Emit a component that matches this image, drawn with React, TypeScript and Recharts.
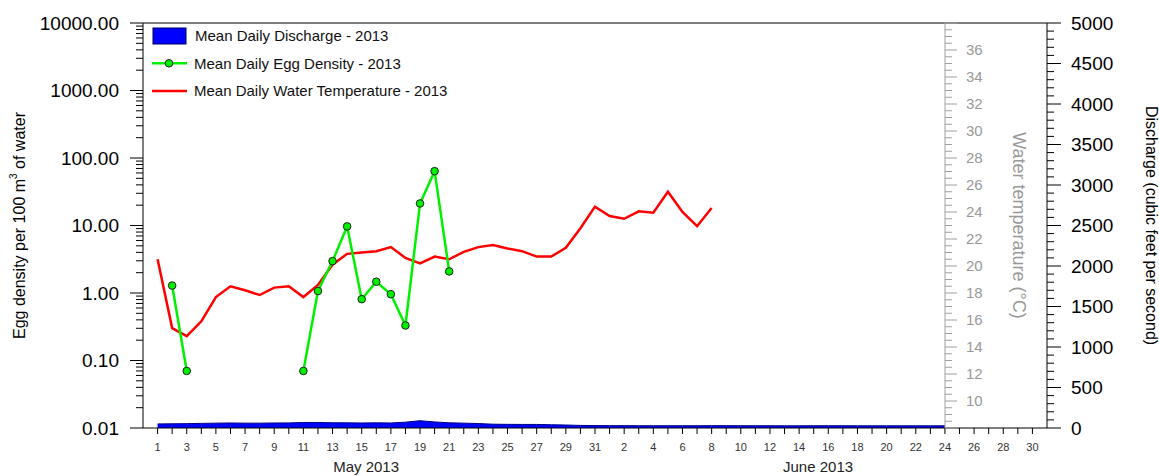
import React from 'react';
import { ComposedChart, Area, Line, XAxis, YAxis, ReferenceLine, Legend } from 'recharts';

// day 1 = May 1 2013 ... day 61 = June 30 2013
const dischargeCfs = [
  50, 52, 54, 57, 60, 62, 60, 60, 62, 63, 68, 68, 65, 64, 62, 64, 62, 72, 90, 75, 64, 60, 55, 47, 45, 44, 44, 40, 37, 32, 30,
  29, 29, 28, 28, 28, 28, 28, 29, 29, 28, 28, 28, 27, 27, 28, 28, 28, 27, 27, 27, 27, 27, 27, 27,
];
const eggDensity = [
  null, 1.29, 0.07, null, null, null, null, null, null, null, 0.07, 1.07, 2.97, 9.7, 0.81, 1.47, 0.96, 0.33, 21.2, 63.8, 2.09,
];
const waterTempC = [
  20.5, 15.4, 14.8, 15.9, 17.7, 18.5, 18.2, 17.85, 18.4, 18.5, 17.7, 18.6, 20.1, 20.9, 21.0, 21.1, 21.4, 20.6, 20.2, 20.7,
  20.5, 21.05, 21.4, 21.55, 21.3, 21.1, 20.7, 20.7, 21.35, 22.8, 24.4, 23.7, 23.5, 24.05, 23.95, 25.5, 24.0, 22.95, 24.3,
];

const eggMajorTicks = [0.01, 0.1, 1, 10, 100, 1000, 10000];
const tempLabelTicks = [10, 12, 14, 16, 18, 20, 22, 24, 26, 28, 30, 32, 34, 36];
const monthLabels = [
  { pos: 15.3, text: 'May 2013' },
  { pos: 46.3, text: 'June 2013' },
];

const seriesNames = {
  q: 'Mean Daily Discharge - 2013',
  egg: 'Mean Daily Egg Density - 2013',
  temp: 'Mean Daily Water Temperature - 2013',
};

const DAYS = 61;
const rows = Array.from({ length: DAYS }, (_, i) => ({
  day: i + 1,
  q: dischargeCfs[i] ?? null,
  egg: eggDensity[i] ?? null,
  temp: waterTempC[i] ?? null,
}));

// axis decoration ticks (minor + major)
const dayTicks = rows.map((r) => r.day);
const eggAxisTicks: number[] = [];
eggMajorTicks.forEach((d, i) => {
  eggAxisTicks.push(d);
  if (i < eggMajorTicks.length - 1) for (let m = 2; m <= 9; m++) eggAxisTicks.push(m * d);
});
const dischargeAxisTicks: number[] = [];
for (let v = 0; v <= 5000; v += 100) dischargeAxisTicks.push(v);
const tempAxisTicks: number[] = [];
for (let v = 8; v <= 38; v += 0.5) tempAxisTicks.push(v);

const FONT = '"Liberation Sans", Arial, sans-serif';
const GREEN = '#00f000';
const RED = '#ff0000';
const GRAY = '#a0a0a0';
const TEMP_AXIS_X = 945; // June 24
const OVERLAY_PAD = 10;

const DayTick = ({ x, y, payload }: any) => {
  const d = payload.value;
  return (
    <g>
      <line x1={x} x2={x} y1={y} y2={y + 6} stroke="#000" />
      {d % 2 === 1 && (
        <text x={x} y={y + 23} textAnchor="middle" fontSize={11} fill="#333">
          {d <= 31 ? d : d - 31}
        </text>
      )}
    </g>
  );
};

const MonthTick = ({ x, y, payload }: any) => {
  const m = monthLabels.find((l) => l.pos === payload.value);
  return (
    <text x={x} y={y + 16} textAnchor="middle" fontSize={15} fill="#222">
      {m ? m.text : ''}
    </text>
  );
};

const EggTick = ({ x, y, payload }: any) => {
  const major = eggMajorTicks.includes(payload.value);
  return (
    <g>
      <line x1={x - (major ? 13 : 7)} x2={x} y1={y} y2={y} stroke="#000" />
      {major && (
        <text x={x - 24} y={y} dy="0.36em" textAnchor="end" fontSize={19} fill="#000">
          {payload.value.toFixed(2)}
        </text>
      )}
    </g>
  );
};

const DischargeTick = ({ x, y, payload }: any) => {
  const major = payload.value % 500 === 0;
  return (
    <g>
      <line x1={x} x2={x + (major ? 14 : 7)} y1={y} y2={y} stroke="#000" />
      {major && (
        <text x={x + 24} y={y} dy="0.36em" textAnchor="start" fontSize={19} fill="#000">
          {payload.value}
        </text>
      )}
    </g>
  );
};

const TempTick = ({ x, y, payload }: any) => {
  const v = payload.value;
  const major = v % 2 === 0;
  return (
    <g>
      <line x1={x} x2={x + (major ? 12 : 7)} y1={y} y2={y} stroke={GRAY} />
      {tempLabelTicks.includes(v) && (
        <text x={x + 21} y={y} dy="0.36em" textAnchor="start" fontSize={15} fill="#999">
          {v}
        </text>
      )}
    </g>
  );
};

const EggLabel = ({ viewBox }: any) => {
  const cx = viewBox.x + 19;
  const cy = viewBox.y + viewBox.height / 2;
  return (
    <text
      x={cx}
      y={cy}
      transform={`rotate(-90 ${cx} ${cy})`}
      textAnchor="middle"
      dominantBaseline="central"
      fontSize={16}
      fill="#000"
    >
      Egg density per 100 m
      <tspan fontSize={10} dy={-6}>3</tspan>
      <tspan dy={6}> of water</tspan>
    </text>
  );
};

const DischargeLabel = ({ viewBox }: any) => {
  const cx = viewBox.x + 104;
  const cy = viewBox.y + viewBox.height / 2;
  return (
    <text
      x={cx}
      y={cy}
      transform={`rotate(90 ${cx} ${cy})`}
      textAnchor="middle"
      dominantBaseline="central"
      fontSize={16}
      fill="#000"
    >
      Discharge (cubic feet per second)
    </text>
  );
};

// label placed relative to the overlay chart's plot edge (= temperature axis line)
const TempLabel = () => {
  const cx = OVERLAY_PAD + 74;
  const cy = 23 + 405 / 2;
  return (
    <text
      x={cx}
      y={cy}
      transform={`rotate(90 ${cx} ${cy})`}
      textAnchor="middle"
      dominantBaseline="central"
      fontSize={18}
      fill="#999"
    >
      Water temperature (°C)
    </text>
  );
};

const renderLegend = () => (
  <svg width={330} height={84} style={{ fontFamily: FONT }}>
    <rect x={5} y={6} width={33} height={16} fill="#0000ff" stroke="#000060" />
    <text x={47} y={19.4} fontSize={15} fill="#111">{seriesNames.q}</text>
    <line x1={4} x2={39} y1={41.3} y2={41.3} stroke={GREEN} strokeWidth={2.5} />
    <circle cx={21} cy={41.3} r={3.8} fill={GREEN} stroke="#222" strokeWidth={1} />
    <text x={46} y={46.7} fontSize={15} fill="#111">{seriesNames.egg}</text>
    <line x1={4} x2={39} y1={69} y2={69} stroke={RED} strokeWidth={2.5} />
    <text x={46} y={74.4} fontSize={15} fill="#111">{seriesNames.temp}</text>
  </svg>
);

export default function App() {
  return (
    <div style={{ position: 'relative', width: 1159, height: 476, fontFamily: FONT, background: '#fff' }}>
      <style>{`body{margin:0}`}</style>
      <ComposedChart width={1159} height={476} data={rows} margin={{ top: 23, right: 0, bottom: 0, left: 0 }}>
        <XAxis
          dataKey="day"
          type="number"
          domain={[0, 62]}
          ticks={dayTicks}
          interval={0}
          tickSize={0}
          tickMargin={0}
          tick={DayTick}
          height={28}
          stroke="#000"
          allowDataOverflow
        />
        <XAxis
          xAxisId="month"
          dataKey="day"
          type="number"
          domain={[0, 62]}
          ticks={monthLabels.map((m) => m.pos)}
          interval={0}
          axisLine={false}
          tickLine={false}
          tickSize={0}
          tickMargin={0}
          tick={MonthTick}
          height={20}
          allowDataOverflow
        />
        <YAxis
          yAxisId="egg"
          type="number"
          scale="log"
          domain={[0.01, 10000]}
          ticks={eggAxisTicks}
          interval={0}
          tickSize={0}
          tickMargin={0}
          tick={EggTick}
          width={143}
          stroke="#000"
          allowDataOverflow
          label={{ content: EggLabel }}
        />
        <YAxis
          yAxisId="q"
          orientation="right"
          type="number"
          domain={[0, 5000]}
          ticks={dischargeAxisTicks}
          interval={0}
          tickSize={0}
          tickMargin={0}
          tick={DischargeTick}
          width={112}
          stroke="#000"
          allowDataOverflow
          label={{ content: DischargeLabel }}
        />
        <YAxis yAxisId="temp" type="number" domain={[8, 38]} hide allowDataOverflow />
        <ReferenceLine yAxisId="egg" y={10000} stroke="#000" />
        <Area
          yAxisId="q"
          dataKey="q"
          type="linear"
          fill="#0000ff"
          fillOpacity={1}
          stroke="#000080"
          strokeWidth={1}
          isAnimationActive={false}
          name={seriesNames.q}
        />
        <Line
          yAxisId="temp"
          dataKey="temp"
          type="linear"
          stroke={RED}
          strokeWidth={2.5}
          dot={false}
          isAnimationActive={false}
          name={seriesNames.temp}
        />
        <Line
          yAxisId="egg"
          dataKey="egg"
          type="linear"
          stroke={GREEN}
          strokeWidth={2.5}
          dot={{ r: 3.8, fill: GREEN, stroke: '#222', strokeWidth: 1 }}
          isAnimationActive={false}
          name={seriesNames.egg}
        />
        <Legend
          layout="vertical"
          align="center"
          verticalAlign="middle"
          wrapperStyle={{ left: 148, top: 22, width: 330, height: 84 }}
          content={renderLegend}
        />
      </ComposedChart>
      {/* water temperature axis sits inside the plot at June 24 */}
      <div style={{ position: 'absolute', left: TEMP_AXIS_X - OVERLAY_PAD, top: 0, pointerEvents: 'none' }}>
        <ComposedChart
          width={1159 - TEMP_AXIS_X + OVERLAY_PAD}
          height={476}
          data={rows}
          margin={{ top: 23, right: 0, bottom: 48, left: OVERLAY_PAD }}
        >
          <XAxis dataKey="day" type="number" domain={[0, 62]} hide />
          <YAxis
            yAxisId="t"
            orientation="left"
            mirror
            type="number"
            domain={[8, 38]}
            ticks={tempAxisTicks}
            interval={0}
            tickSize={0}
            tickMargin={0}
            tick={TempTick}
            width={1}
            stroke={GRAY}
            allowDataOverflow
          />
          <Line yAxisId="t" dataKey="temp" stroke="none" dot={false} isAnimationActive={false} />
          <TempLabel />
        </ComposedChart>
      </div>
    </div>
  );
}
